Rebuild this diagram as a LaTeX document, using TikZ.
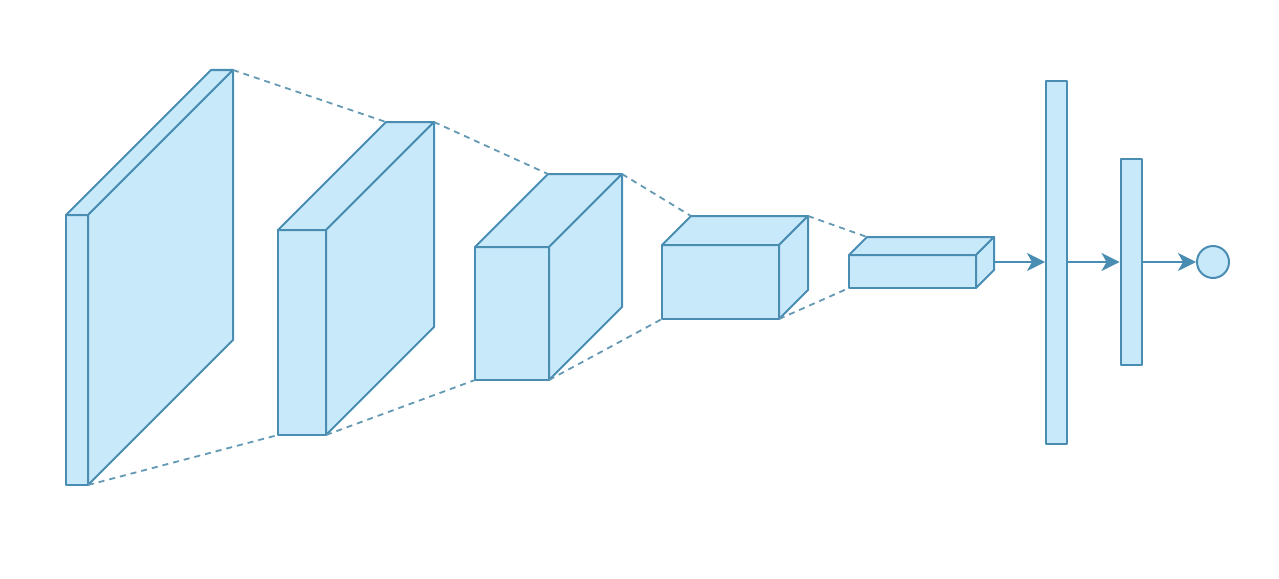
\documentclass[tikz,border=0pt]{standalone}
\usepackage{tikz}
\usepackage{xcolor}
\usetikzlibrary{positioning,shapes,arrows.meta}

\definecolor{layerfill}{HTML}{C8E9FA}
\definecolor{layerline}{HTML}{4A8DB3}
\definecolor{linkline}{HTML}{6399B3}

\tikzset{
  layer/.style={fill=layerfill,draw=layerline,line width=2pt,line join=round},
  link/.style={draw=linkline,line width=1.8pt,dash pattern=on 6pt off 5pt},
  bar/.style={layer,shape=rectangle,inner sep=0pt,minimum width=21pt},
  unit/.style={layer,shape=circle,inner sep=0pt,minimum size=32pt},
  flow/.style={draw=layerline,line width=2pt,-{Stealth[length=18pt,width=18pt,inset=5pt]}}
}

% name, x, y (front top left), width, height, depth
\newcommand{\layerbox}[6]{%
  \filldraw[layer] (#2,#3) rectangle ++(#4,#5);
  \filldraw[layer] (#2,#3) -- ++(#6,-#6) -- ++(#4,0) -- ++(-#6,#6) -- cycle;
  \filldraw[layer] (#2+#4,#3) -- ++(#6,-#6) -- ++(0,#5) -- ++(-#6,#6) -- cycle;
  \coordinate (#1-fbl) at (#2,#3+#5);
  \coordinate (#1-fbr) at (#2+#4,#3+#5);
  \coordinate (#1-btl) at (#2+#6,#3-#6);
  \coordinate (#1-btr) at (#2+#4+#6,#3-#6);
}

\begin{document}
\begin{tikzpicture}[x=1pt,y=-1pt]
\useasboundingbox (0,0) rectangle (1279,578);

\layerbox{c1}{66}{215}{22}{270}{145}
\layerbox{c2}{278}{230}{48}{205}{108}
\layerbox{c3}{475}{247}{74}{133}{73}
\layerbox{c4}{662}{245}{117}{74}{29}
\layerbox{c5}{849}{255}{127}{33}{18}

% receptive field lines
\draw[link] (c1-btr) -- (c2-btl)
(c2-btr) -- (c3-btl)
(c3-btr) -- (c4-btl)
(c4-btr) -- (c5-btl);
\draw[link] (c1-fbr) -- (c2-fbl)
(c2-fbr) -- (c3-fbl)
(c3-fbr) -- (c4-fbl)
(c4-fbr) -- (c5-fbl);

\coordinate (c5-out) at (994,262);
\node[bar,minimum height=363pt] (fc1) at (1056.5,262) {};
\node[bar,minimum height=206pt] (fc2) at (1131,262) {};
\node[unit] (out) at (1213,262) {};

\draw[flow] (c5-out) -- (fc1);
\draw[flow] (fc1) -- (fc2);
\draw[flow] (fc2) -- (out);
\end{tikzpicture}
\end{document}
